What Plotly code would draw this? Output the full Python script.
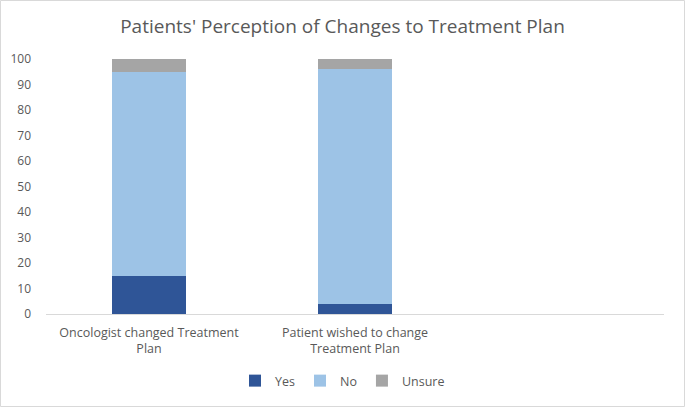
import plotly.graph_objects as go

categories = ["Oncologist changed Treatment<br>Plan", "Patient wished to change<br>Treatment Plan", ""]
yes_vals = [15, 4, None]
no_vals = [80, 92, None]
unsure_vals = [5, 4, None]
y_ticks = [0, 10, 20, 30, 40, 50, 60, 70, 80, 90, 100]

colors = {"Yes": "#2F5597", "No": "#9DC3E6", "Unsure": "#A5A5A5"}
xpos = [0, 1, 2]

fig = go.Figure()
for name, vals in [("Yes", yes_vals), ("No", no_vals), ("Unsure", unsure_vals)]:
    fig.add_trace(go.Bar(x=xpos, y=vals, name=name, marker_color=colors[name],
                         marker_line_width=0, width=0.357))

L, R, T, B = 46, 21, 59, 93
W, H = 685, 407
pw, ph = W - L - R, H - T - B

fig.update_layout(
    width=W, height=H, barmode="stack",
    margin=dict(l=L, r=R, t=T, b=B, autoexpand=False),
    paper_bgcolor="white", plot_bgcolor="white",
    font=dict(family="Open Sans, Liberation Sans, sans-serif", color="#595959", size=12),
    title=dict(text="Patients' Perception of Changes to Treatment Plan",
               x=0.5, xref="container", xanchor="center",
               y=1 - 26 / H, yanchor="middle", automargin=False,
               font=dict(size=19, color="#595959")),
    xaxis=dict(range=[-0.5, 2.5], tickmode="array", tickvals=xpos[:2],
               ticktext=categories[:2], showline=True, linecolor="#D9D9D9",
               linewidth=1, showgrid=False, ticks="", zeroline=False,
               automargin=False, ticklabelstandoff=7,
               tickfont=dict(size=12.5, color="#595959")),
    yaxis=dict(range=[0, 100], tickmode="array", tickvals=y_ticks,
               showgrid=False, zeroline=False, showline=False, ticks="",
               ticklabelstandoff=14, automargin=False,
               tickfont=dict(size=12, color="#595959")),
    legend=dict(orientation="h", x=0.5, xref="container", xanchor="center",
                y=1 - 381 / H, yref="container", yanchor="middle",
                font=dict(size=12.5, color="#595959"), itemwidth=30,
                traceorder="normal"),
    showlegend=True,
    shapes=[dict(type="rect", xref="paper", yref="paper",
                 x0=(0.5 - L) / pw, x1=(W - 0.5 - L) / pw,
                 y0=-(B - 0.5) / ph, y1=1 + (T - 0.5) / ph,
                 line=dict(color="#D9D9D9", width=1), fillcolor="rgba(0,0,0,0)")],
)

fig.write_html("out.html", config={"displayModeBar": False},
               post_script="document.body.style.margin='0px';")
